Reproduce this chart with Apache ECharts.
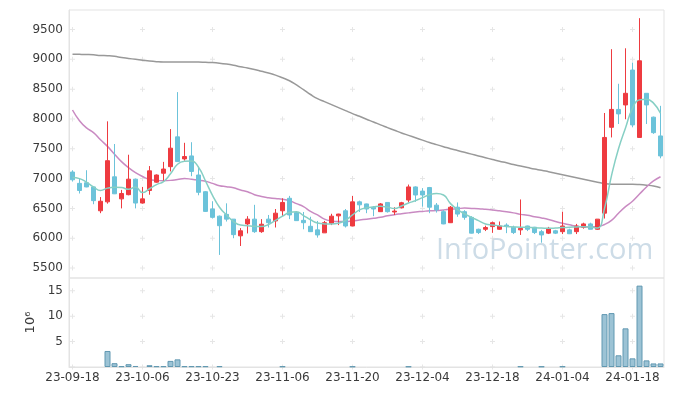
<!DOCTYPE html>
<html><head><meta charset="utf-8">
<script src="https://cdn.jsdelivr.net/npm/echarts@6/dist/echarts.min.js"></script>
<style>html,body{margin:0;padding:0;background:#fff}#c{width:673px;height:396px}</style>
</head><body><div id="c"></div>
<script>
const dates = [
'23-09-18','23-09-19','23-09-20','23-09-21','23-09-22','23-09-25','23-09-26','23-09-27','23-10-04','23-10-05',
'23-10-06','23-10-10','23-10-11','23-10-12','23-10-13','23-10-16','23-10-17','23-10-18','23-10-19','23-10-20',
'23-10-23','23-10-24','23-10-25','23-10-26','23-10-27','23-10-30','23-10-31','23-11-01','23-11-02','23-11-03',
'23-11-06','23-11-07','23-11-08','23-11-09','23-11-10','23-11-13','23-11-14','23-11-15','23-11-16','23-11-17',
'23-11-20','23-11-21','23-11-22','23-11-23','23-11-24','23-11-27','23-11-28','23-11-29','23-11-30','23-12-01',
'23-12-04','23-12-05','23-12-06','23-12-07','23-12-08','23-12-11','23-12-12','23-12-13','23-12-14','23-12-15',
'23-12-18','23-12-19','23-12-20','23-12-21','23-12-22','23-12-26','23-12-27','23-12-28','24-01-02','24-01-03',
'24-01-04','24-01-05','24-01-08','24-01-09','24-01-10','24-01-11','24-01-12','24-01-15','24-01-16','24-01-17',
'24-01-18','24-01-19','24-01-22','24-01-23','24-01-24'];

const open = [7110,6920,6930,6860,6460,6610,7030,6660,6730,6990,
6590,6800,6940,7090,7200,7700,7330,7380,7060,6780,
6490,6370,6400,6320,6040,6240,6320,6110,6320,6290,
6460,6670,6430,6300,6200,6140,6090,6250,6375,6460,
6205,6610,6575,6520,6445,6600,6440,6510,6640,6860,
6790,6850,6555,6445,6260,6520,6445,6350,6150,6150,
6195,6150,6220,6185,6140,6205,6185,6110,6085,6125,
6110,6140,6110,6185,6240,6150,6420,7860,8160,8235,
8820,7690,8430,8030,7715];
const close = [6980,6800,6860,6630,6620,7300,6745,6750,6990,6590,
6660,7130,7060,7160,7510,7285,7370,7120,6770,6450,
6350,6210,6320,6060,6125,6320,6110,6235,6260,6420,
6600,6390,6295,6260,6110,6055,6260,6370,6405,6205,
6610,6560,6490,6490,6575,6445,6455,6595,6860,6725,
6725,6520,6475,6240,6520,6405,6350,6085,6095,6180,
6260,6205,6205,6095,6165,6150,6095,6055,6165,6085,
6205,6075,6205,6240,6150,6320,7690,8160,8085,8430,
7900,8975,8235,7770,7380];
const low = [6950,6750,6855,6570,6420,6580,6740,6500,6720,6500,
6580,6730,6930,6950,7120,7280,7300,7040,6720,6440,
6330,5720,6280,6000,5870,6080,6090,6090,6180,6180,
6370,6320,6290,6150,6105,6010,6090,6220,6220,6180,
6200,6440,6420,6370,6440,6430,6390,6500,6600,6610,
6530,6420,6430,6235,6255,6360,6310,6080,6070,6120,
6090,6140,6085,6070,6055,6120,6070,5925,6070,6070,
6070,6070,6070,6160,6150,6140,6330,7690,7915,7995,
7860,7690,7915,7750,7340];
const high = [7140,7000,7140,6860,6690,7960,7580,6810,7400,7000,
6860,7210,7070,7280,7830,8450,7600,7610,7200,6790,
6620,6380,6585,6320,6170,6370,6560,6320,6390,6490,
6670,6710,6440,6440,6360,6290,6290,6410,6410,6490,
6710,6630,6580,6540,6590,6600,6520,6610,6900,6870,
6840,6860,6590,6470,6540,6600,6470,6370,6160,6210,
6280,6280,6250,6210,6650,6210,6190,6140,6190,6140,
6445,6160,6240,6260,6260,6320,8100,9170,8590,9185,
8945,9690,8430,8040,8220];

const volume = [0,0,0,0,0,3.15,0.75,0.15,0.55,0.2,
0,0.35,0.15,0.15,1.2,1.5,0.15,0.15,0.15,0.15,
0,0.15,0,0,0,0,0,0,0,0,
0.12,0,0,0,0,0,0,0,0,0,
0.1,0,0,0,0,0,0,0,0.1,0,
0,0,0,0,0,0,0,0,0,0,
0,0,0,0,0.12,0,0,0.1,0,0,
0.12,0,0,0,0,0,10.4,10.6,2.3,7.6,
1.7,16.0,1.3,0.7,0.7];

const maShort = [7020,7000,6940,6860,6800,6840,6855,6850,6820,6860,
6765,6830,6900,6950,7080,7240,7290,7295,7190,6960,
6720,6520,6390,6280,6220,6210,6200,6195,6230,6300,
6370,6430,6445,6380,6310,6255,6240,6238,6250,6300,
6390,6475,6510,6525,6535,6520,6500,6540,6590,6630,
6680,6730,6750,6725,6580,6480,6410,6350,6295,6240,
6222,6210,6195,6190,6185,6183,6175,6170,6166,6170,
6178,6183,6190,6194,6190,6170,6500,7050,7500,7850,
8180,8320,8330,8265,8095];
const maMid = [8150,7970,7850,7770,7650,7540,7410,7285,7185,7100,
7035,6985,6970,6965,6970,6985,7000,6990,6975,6955,
6920,6880,6865,6845,6810,6780,6730,6700,6680,6665,
6655,6630,6580,6530,6450,6390,6320,6290,6280,6280,
6290,6305,6320,6335,6350,6375,6395,6410,6425,6440,
6450,6460,6465,6475,6485,6495,6505,6500,6495,6485,
6475,6460,6445,6425,6400,6385,6360,6340,6315,6280,
6250,6225,6200,6190,6190,6195,6230,6300,6420,6530,
6620,6740,6860,6960,7030];
const maLong = [9085,9083,9080,9075,9065,9060,9050,9030,9015,9000,
8985,8970,8960,8955,8955,8955,8955,8955,8955,8950,
8945,8935,8920,8900,8875,8855,8830,8800,8770,8735,
8690,8640,8570,8490,8410,8340,8290,8240,8190,8140,
8090,8045,7995,7950,7900,7855,7810,7765,7725,7685,
7645,7605,7570,7535,7500,7470,7440,7410,7380,7350,
7320,7290,7265,7235,7210,7185,7160,7140,7115,7090,
7065,7040,7015,6990,6965,6940,6915,6905,6905,6905,
6905,6900,6890,6875,6845];

const priceTicks = [5500,6000,6500,7000,7500,8000,8500,9000,9500];
const volTicks = [5,10,15];
const volMarkTicks = [0,5,10,15];
const dateMarkIdx = [0,10,20,30,40,50,60,70,80];

const candleData = dates.map((d,i)=>[open[i],close[i],low[i],high[i]]);
const volData = volume.map(v => v > 0 ? v : '-');
const priceMarks = [], volMarks = [];
dateMarkIdx.forEach(ix=>{
  priceTicks.forEach(v=>priceMarks.push([ix,v]));
  volMarkTicks.forEach(v=>volMarks.push([ix,v]));
});

const FONT = 'DejaVu Sans';
const labelColor = '#3a3a3a';
const borderC = '#e3e3e3';
const plus = 'path://M2,0h1v5h-1zM0,2h5v1h-5z';

const chart = echarts.init(document.getElementById('c'), null, {renderer:'canvas'});
chart.setOption({
  animation: false,
  backgroundColor: '#fff',
  grid: [
    {left:69, right:9, top:10, height:268, show:true, borderColor:borderC, borderWidth:1, outerBoundsMode:'none', containLabel:false},
    {left:69, right:9, top:278, height:89, show:true, borderColor:borderC, borderWidth:1, outerBoundsMode:'none', containLabel:false}
  ],
  xAxis: [
    {type:'category', gridIndex:0, data:dates, boundaryGap:true,
     axisLine:{show:false}, axisTick:{show:false}, axisLabel:{show:false}, splitLine:{show:false}},
    {type:'category', gridIndex:1, data:dates, boundaryGap:true,
     axisLine:{show:true, lineStyle:{color:borderC}}, axisTick:{show:false},
     axisLabel:{interval:9, color:labelColor, fontSize:12, fontFamily:FONT, margin:5},
     splitLine:{show:false}}
  ],
  yAxis: [
    {type:'value', gridIndex:0, min:5333, max:9827, scale:true,
     axisLine:{show:true, lineStyle:{color:borderC}}, axisTick:{show:false},
     axisLabel:{customValues:priceTicks, formatter:v=>String(v), color:labelColor, fontSize:12, fontFamily:FONT, margin:6},
     splitLine:{show:false}},
    {type:'value', gridIndex:1, min:0, max:17.5,
     name:'10⁶', nameLocation:'middle', nameRotate:90, nameGap:31,
     nameTextStyle:{color:labelColor, fontSize:13, fontFamily:FONT},
     axisLine:{show:true, lineStyle:{color:borderC}}, axisTick:{show:false},
     axisLabel:{customValues:volTicks, formatter:v=>String(v), color:labelColor, fontSize:12, fontFamily:FONT, margin:6},
     splitLine:{show:false}}
  ],
  graphic: [
    {type:'text', left:436, top:236, z:0, silent:true,
     style:{text:'InfoPointer.com', font:'29px "Open Sans"', fill:'#cddce7'}}
  ],
  series: [
    {type:'scatter', xAxisIndex:0, yAxisIndex:0, data:priceMarks, symbol:plus, symbolSize:5,
     itemStyle:{color:'#e0e0e0'}, silent:true, z:1},
    {type:'scatter', xAxisIndex:1, yAxisIndex:1, data:volMarks, symbol:plus, symbolSize:5,
     itemStyle:{color:'#e0e0e0'}, silent:true, z:1},
    {type:'line', xAxisIndex:0, yAxisIndex:0, data:maLong, showSymbol:false, smooth:true,
     lineStyle:{color:'#999999', width:1.5}, z:3},
    {type:'line', xAxisIndex:0, yAxisIndex:0, data:maMid, showSymbol:false, smooth:true,
     lineStyle:{color:'#c98ac2', width:1.5}, z:3},
    {type:'candlestick', xAxisIndex:0, yAxisIndex:0, data:candleData, barWidth:5,
     itemStyle:{color:'#ee3b40', color0:'#6cc3da', borderColor:'#ee3b40', borderColor0:'#6cc3da', borderWidth:1}, z:4},
    {type:'line', xAxisIndex:0, yAxisIndex:0, data:maShort, showSymbol:false, smooth:true,
     lineStyle:{color:'#86cfc4', width:1.5}, z:5},
    {type:'bar', xAxisIndex:1, yAxisIndex:1, data:volData, barWidth:6,
     itemStyle:{color:'rgba(128,178,201,0.78)', borderColor:'#6198b1', borderWidth:1}, z:3}
  ]
});
</script>
</body></html>
